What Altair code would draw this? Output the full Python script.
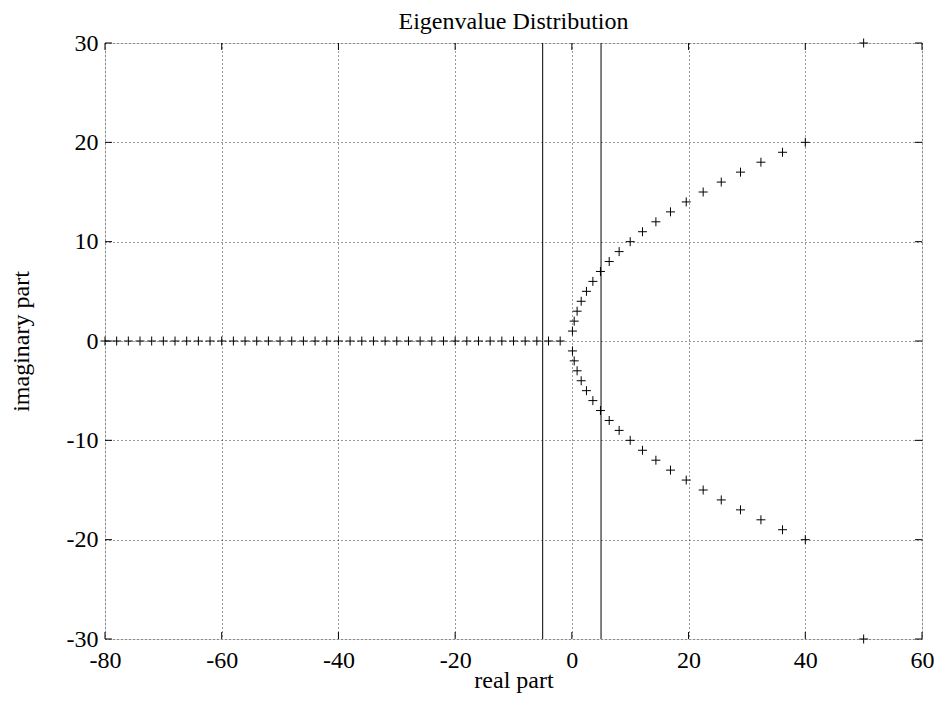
import altair as alt
import pandas as pd

# ---- data ----
chart_title = "Eigenvalue Distribution"

real_axis_x = [-80, -78, -76, -74, -72, -70, -68, -66, -64, -62,
               -60, -58, -56, -54, -52, -50, -48, -46, -44, -42,
               -40, -38, -36, -34, -32, -30, -28, -26, -24, -22,
               -20, -18, -16, -14, -12, -10, -8, -6, -4, -2]
real_axis_y = [0] * len(real_axis_x)

branch_imag = [1, 2, 3, 4, 5, 6, 7, 8, 9, 10,
               11, 12, 13, 14, 15, 16, 17, 18, 19, 20]
branch_real = [0.1, 0.4, 0.9, 1.6, 2.5, 3.6, 4.9, 6.4, 8.1, 10.0,
               12.1, 14.4, 16.9, 19.6, 22.5, 25.6, 28.9, 32.4, 36.1, 40.0]

edge_x = [50, 50]
edge_y = [30, -30]

vline_x = [-5, 5]

x_ticks = [-80, -60, -40, -20, 0, 20, 40, 60]
y_ticks = [-30, -20, -10, 0, 10, 20, 30]

# ---- tables ----
pts = pd.DataFrame({
    "re": real_axis_x + branch_real + branch_real + edge_x,
    "im": real_axis_y + branch_imag + [-v for v in branch_imag] + edge_y,
})
vl = pd.DataFrame({"re": vline_x})
xt = pd.DataFrame({"re": x_ticks})
yt = pd.DataFrame({"im": y_ticks})
tt = pd.DataFrame({"t": [chart_title]})

W, H = 817, 596
FONT = "Liberation Serif"
TL = 7

xs = alt.Scale(domain=[-80, 60], nice=False, zero=False)
ys = alt.Scale(domain=[-30, 30], nice=False, zero=False)

x_axis = alt.Axis(
    values=x_ticks, grid=True, gridDash=[1, 3], gridColor="#333", gridWidth=1,
    domain=False, ticks=False, labelPadding=9, labelFlush=False,
    labelFont=FONT, labelFontSize=24, labelColor="black",
    labelExpr="'' + datum.value",
    title="real part", titleFont=FONT, titleFontSize=24, titleFontWeight="normal",
    titleColor="black", titleX=W / 2, titleY=48, titleBaseline="alphabetic",
    titleAlign="center",
)
y_axis = alt.Axis(
    values=y_ticks, grid=True, gridDash=[1, 3], gridColor="#333", gridWidth=1,
    domain=False, ticks=False, labelPadding=7, labelFlush=False,
    labelFont=FONT, labelFontSize=24, labelColor="black",
    labelExpr="'' + datum.value",
    title="imaginary part", titleFont=FONT, titleFontSize=24, titleFontWeight="normal",
    titleColor="black", titleX=-84, titleY=H / 2, titleBaseline="middle",
    titleAlign="center", titleAngle=270,
)

points = alt.Chart(pts).mark_point(
    shape="M-1,0H1M0,-1V1", filled=False, size=81, stroke="black",
    strokeWidth=1, opacity=1,
).encode(
    x=alt.X("re:Q", scale=xs, axis=x_axis),
    y=alt.Y("im:Q", scale=ys, axis=y_axis),
)

vlines = alt.Chart(vl).mark_rule(color="black", strokeWidth=1).encode(
    x=alt.X("re:Q", scale=xs),
)

tick_style = dict(color="black", strokeWidth=1)
xt_bottom = alt.Chart(xt).mark_rule(**tick_style).encode(
    x=alt.X("re:Q", scale=xs), y=alt.value(H), y2=alt.value(H - TL))
xt_top = alt.Chart(xt).mark_rule(**tick_style).encode(
    x=alt.X("re:Q", scale=xs), y=alt.value(0), y2=alt.value(TL))
yt_left = alt.Chart(yt).mark_rule(**tick_style).encode(
    y=alt.Y("im:Q", scale=ys), x=alt.value(0), x2=alt.value(TL))
yt_right = alt.Chart(yt).mark_rule(**tick_style).encode(
    y=alt.Y("im:Q", scale=ys), x=alt.value(W), x2=alt.value(W - TL))

title_text = alt.Chart(tt).mark_text(
    font=FONT, fontSize=24, color="black", align="center", baseline="alphabetic",
).encode(
    text="t:N", x=alt.value(W / 2), y=alt.value(-14),
)

chart = alt.layer(
    vlines, xt_bottom, xt_top, yt_left, yt_right, points, title_text
).properties(
    width=W, height=H,
    autosize=alt.AutoSizeParams(type="none"),
    padding={"left": 97, "top": 35, "right": 12, "bottom": 56},
).configure_view(
    stroke="black", strokeWidth=1,
).configure(background="white")

chart.save("out.html", embed_options={"renderer": "svg", "actions": False})
